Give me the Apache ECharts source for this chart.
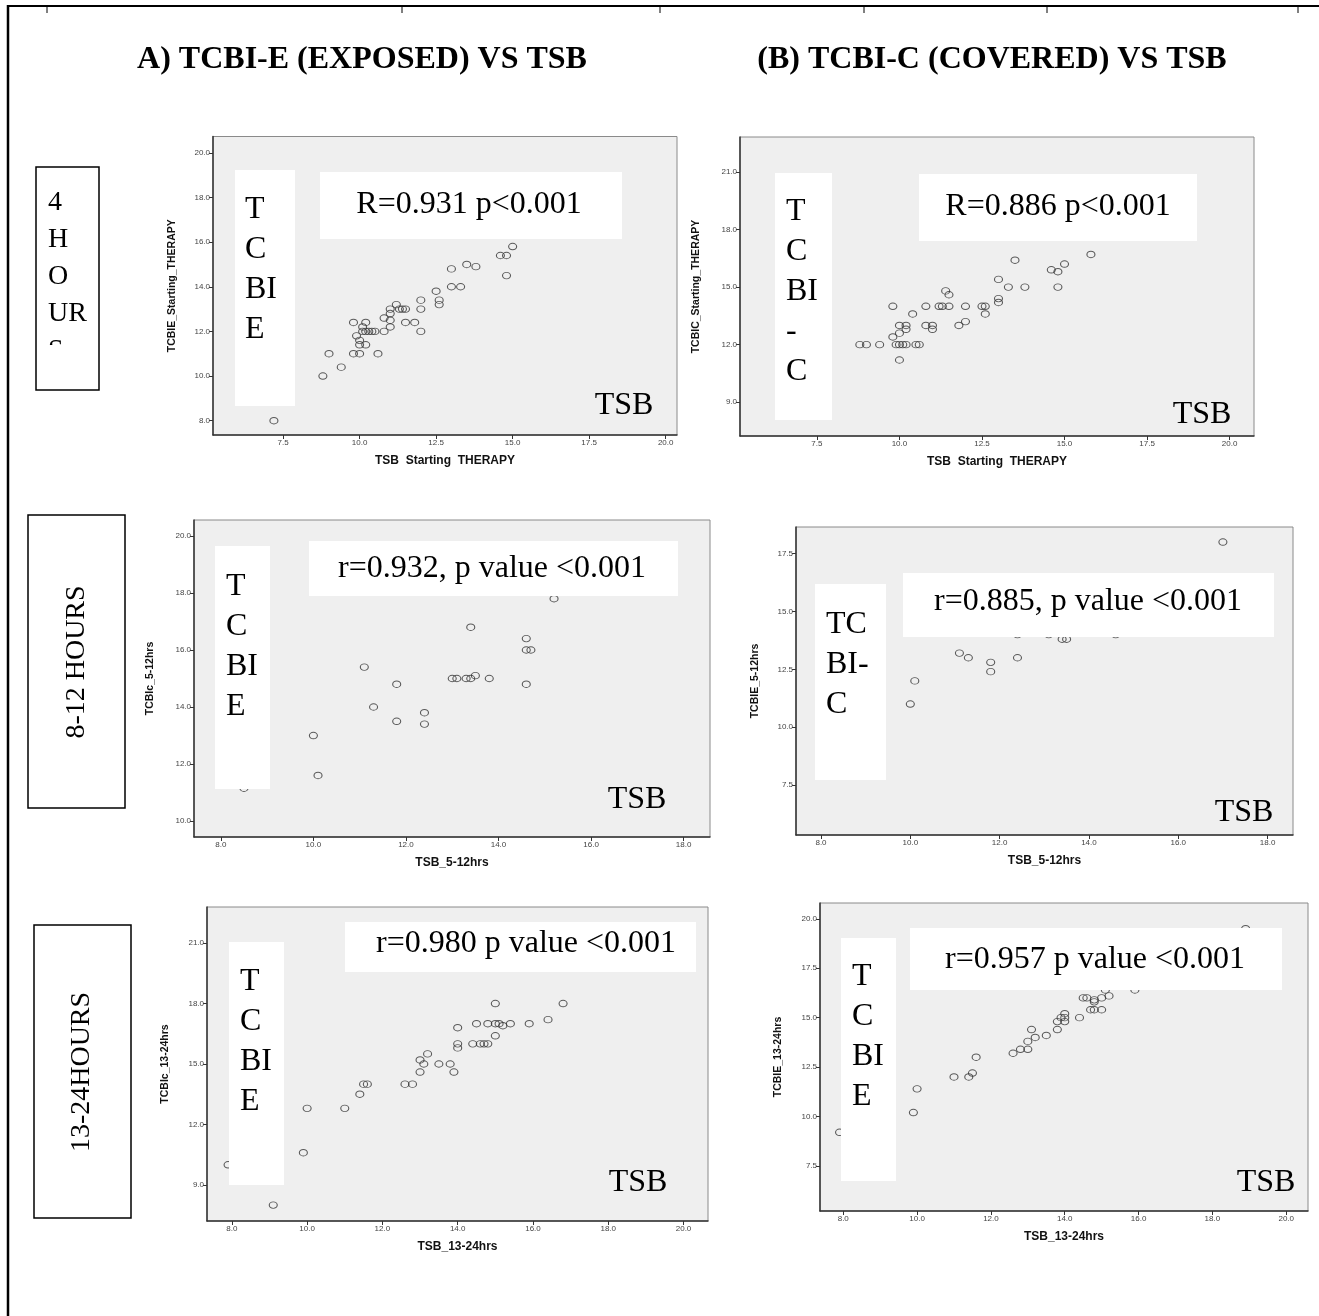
<!DOCTYPE html>
<html>
<head>
<meta charset="utf-8">
<script src="https://cdn.jsdelivr.net/npm/echarts@6/dist/echarts.min.js"></script>
<style>
  html, body { margin: 0; padding: 0; background: #fff; }
  #chart { width: 1319px; height: 1316px; }
</style>
</head>
<body>
<div id="chart"></div>
<script>
// data: [TSB, TCBI]
const startE = [[7.2,8.0],[8.8,10.0],[9.0,11.0],[9.4,10.4],[9.8,12.4],[9.8,11.0],[9.9,11.8],[10.0,11.6],[10.0,11.4],[10.0,11.0],
  [10.1,12.2],[10.1,12.0],[10.2,12.4],[10.2,12.0],[10.2,11.4],[10.3,12.0],[10.4,12.0],[10.5,12.0],[10.6,11.0],[10.8,12.6],
  [10.8,12.0],[11.0,13.0],[11.0,12.8],[11.0,12.5],[11.0,12.2],[11.2,13.2],[11.3,13.0],[11.4,13.0],[11.5,13.0],[11.5,12.4],
  [11.8,12.4],[12.0,13.4],[12.0,13.0],[12.0,12.0],[12.5,13.8],[12.6,13.4],[12.6,13.2],[13.0,14.8],[13.0,14.0],[13.3,14.0],
  [13.5,15.0],[13.8,14.9],[14.6,15.4],[14.8,15.4],[14.8,14.5],[15.0,15.8]];
const startC = [[8.8,12.0],[9.0,12.0],[9.4,12.0],[9.8,14.0],[9.8,12.4],[9.9,12.0],[10.0,13.0],[10.0,12.6],[10.0,12.0],[10.0,11.2],
  [10.1,12.0],[10.2,12.0],[10.2,13.0],[10.2,12.8],[10.4,13.6],[10.5,12.0],[10.6,12.0],[10.8,14.0],[10.8,13.0],[11.0,13.0],
  [11.0,12.8],[11.2,14.0],[11.3,14.0],[11.4,14.8],[11.5,14.6],[11.5,14.0],[11.8,13.0],[12.0,14.0],[12.0,13.2],[12.5,14.0],
  [12.6,14.0],[12.6,13.6],[13.0,15.4],[13.0,14.4],[13.0,14.2],[13.3,15.0],[13.5,16.4],[13.8,15.0],[14.6,15.9],[14.8,15.8],
  [14.8,15.0],[15.0,16.2],[15.8,16.7]];
const h5to12E = [[8.5,11.15],[10.0,13.0],[10.1,11.6],[11.1,15.4],[11.3,14.0],[11.8,14.8],[11.8,13.5],[12.4,13.8],[12.4,13.4],
  [13.0,15.0],[13.1,15.0],[13.3,15.0],[13.4,15.0],[13.4,16.8],[13.5,15.1],[13.8,15.0],[14.6,16.4],[14.6,16.0],[14.7,16.0],
  [14.6,14.8],[15.2,17.8]];
const h5to12C = [[10.0,11.0],[10.1,12.0],[11.1,13.2],[11.3,13.0],[11.8,12.8],[11.8,12.4],[12.4,13.0],[12.4,14.0],[13.1,14.0],
  [13.4,13.8],[13.5,13.8],[14.6,14.0],[17.0,18.0]];
const h13to24E = [[7.9,10.0],[9.1,8.0],[9.9,10.6],[10.0,12.8],[11.0,12.8],[11.4,13.5],[11.5,14.0],[11.6,14.0],[12.6,14.0],
  [12.8,14.0],[13.0,15.2],[13.0,14.6],[13.1,15.0],[13.2,15.5],[13.5,15.0],[13.8,15.0],[13.9,14.6],[14.0,16.8],[14.0,16.0],
  [14.0,15.8],[14.4,16.0],[14.5,17.0],[14.6,16.0],[14.7,16.0],[14.8,16.0],[14.8,17.0],[15.0,18.0],[15.0,17.0],[15.0,16.4],
  [15.1,17.0],[15.2,16.9],[15.4,17.0],[15.9,17.0],[16.4,17.2],[16.8,18.0]];
const h13to24C = [[7.9,9.2],[9.9,10.2],[10.0,11.4],[11.0,12.0],[11.4,12.0],[11.5,12.2],[11.6,13.0],[12.6,13.2],[12.8,13.4],
  [13.0,13.4],[13.0,13.8],[13.1,14.4],[13.2,14.0],[13.5,14.1],[13.8,14.4],[13.8,14.8],[13.9,15.0],[14.0,15.2],[14.0,15.0],
  [14.0,14.8],[14.4,15.0],[14.5,16.0],[14.6,16.0],[14.7,15.4],[14.8,15.4],[14.8,15.8],[14.8,15.9],[15.0,15.4],[15.0,16.0],
  [15.2,16.1],[15.1,16.4],[15.9,16.4],[18.9,19.5]];

// tick labels
const ticksStartX = [7.5, 10, 12.5, 15, 17.5, 20];
const ticksStartEY = [8, 10, 12, 14, 16, 18, 20];
const ticksStartCY = [9, 12, 15, 18, 21];
const ticks5to12X = [8, 10, 12, 14, 16, 18];
const ticks5to12EY = [10, 12, 14, 16, 18, 20];
const ticks5to12CY = [7.5, 10, 12.5, 15, 17.5];
const ticks13to24X = [8, 10, 12, 14, 16, 18, 20];
const ticks13to24EY = [9, 12, 15, 18, 21];
const ticks13to24CY = [7.5, 10, 12.5, 15, 17.5, 20];

// texts
const titles = ['A) TCBI-E (EXPOSED) VS TSB', '(B) TCBI-C (COVERED) VS TSB'];
const rowLabel1 = ['4', 'H', 'O', 'UR', 'S'];
const rowLabels = ['8-12 HOURS', '13-24HOURS'];
const xNames = ['TSB  Starting  THERAPY', 'TSB  Starting  THERAPY', 'TSB_5-12hrs', 'TSB_5-12hrs', 'TSB_13-24hrs', 'TSB_13-24hrs'];
const yNames = ['TCBIE_Starting_THERAPY', 'TCBIC_Starting_THERAPY', 'TCBIc_5-12hrs', 'TCBIE_5-12hrs', 'TCBIc_13-24hrs', 'TCBIE_13-24hrs'];
const stats = ['R=0.931 p<0.001', 'R=0.886 p<0.001', 'r=0.932, p value <0.001', 'r=0.885, p value <0.001',
  'r=0.980 p value <0.001', 'r=0.957 p value <0.001'];
const sideWords = [['T', 'C', 'BI', 'E'], ['T', 'C', 'BI', '-', 'C'], ['T', 'C', 'BI', 'E'], ['TC', 'BI-', 'C'],
  ['T', 'C', 'BI', 'E'], ['T', 'C', 'BI', 'E']];

// layout of each panel
const panels = [
  { data: startE, xt: ticksStartX, yt: ticksStartEY, box: [213, 136.5, 464, 298.5], xr: [5.21, 20.37], yr: [7.36, 20.73], yGap: 35,
    side: [235, 170, 60, 236, 245, 210], stat: [320, 172, 302, 67, 469, 205], tsb: [624, 406] },
  { data: startC, xt: ticksStartX, yt: ticksStartCY, box: [740, 137, 514, 299], xr: [5.17, 20.74], yr: [7.24, 22.82], yGap: 38,
    side: [775, 173, 57, 247, 786, 212], stat: [919, 174, 278, 67, 1058, 207], tsb: [1202, 415] },
  { data: h5to12E, xt: ticks5to12X, yt: ticks5to12EY, box: [194, 520, 516, 317], xr: [7.42, 18.57], yr: [9.44, 20.56], yGap: 38,
    side: [215, 546, 55, 243, 226, 587], stat: [309, 541, 369, 55, 492, 569], tsb: [637, 800] },
  { data: h5to12C, xt: ticks5to12X, yt: ticks5to12CY, box: [796, 527, 497, 308], xr: [7.44, 18.57], yr: [5.34, 18.65], yGap: 35,
    side: [815, 584, 71, 196, 826, 625], stat: [903, 573, 371, 64, 1088, 602], tsb: [1244, 813] },
  { data: h13to24E, xt: ticks13to24X, yt: ticks13to24EY, box: [207, 907, 501, 314], xr: [7.34, 20.65], yr: [7.21, 22.79], yGap: 36,
    side: [229, 942, 55, 243, 240, 982], stat: [345, 922, 351, 50, 526, 944], tsb: [638, 1183] },
  { data: h13to24C, xt: ticks13to24X, yt: ticks13to24CY, box: [820, 903, 488, 308], xr: [7.37, 20.59], yr: [5.22, 20.8], yGap: 36,
    side: [841, 938, 55, 243, 852, 977], stat: [910, 928, 372, 62, 1095, 960], tsb: [1266, 1183] }
];

const serif = '"Liberation Serif", "Times New Roman", serif';
const sans = '"Liberation Sans", Arial, sans-serif';

const chart = echarts.init(document.getElementById('chart'));

const grids = [], xAxes = [], yAxes = [], series = [], graphics = [];

function rect(x, y, w, h, stroke) {
  graphics.push({ type: 'rect', z: 100, shape: { x: x, y: y, width: w, height: h },
    style: { fill: '#fff', stroke: stroke || null, lineWidth: 1.5 } });
}
function text(x, y, str, font, align, rot) {
  graphics.push({ type: 'text', z: 101, x: x, y: y, rotation: rot || 0,
    style: { text: str, x: 0, y: 0, font: font, fill: '#000', textAlign: align || 'center', textVerticalAlign: 'middle' } });
}
function line(x1, y1, x2, y2, w) {
  graphics.push({ type: 'line', z: 100, shape: { x1: x1, y1: y1, x2: x2, y2: y2 }, style: { stroke: '#000', lineWidth: w } });
}

panels.forEach((p, i) => {
  grids.push({ left: p.box[0], top: p.box[1], width: p.box[2], height: p.box[3], show: true,
    backgroundColor: '#efefef', borderColor: '#8a8a8a', borderWidth: 1, containLabel: false, outerBoundsMode: 'none' });
  const axisBase = {
    type: 'value', gridIndex: i, nameLocation: 'middle',
    axisLine: { show: true, onZero: false, lineStyle: { color: '#333', width: 1.5 } },
    splitLine: { show: false }
  };
  xAxes.push(Object.assign({}, axisBase, {
    min: p.xr[0], max: p.xr[1], name: xNames[i], nameGap: 20,
    nameTextStyle: { fontFamily: sans, fontWeight: 'bold', fontSize: 12, color: '#111' },
    axisTick: { show: true, customValues: p.xt, length: 4, lineStyle: { color: '#333' } },
    axisLabel: { customValues: p.xt, formatter: v => v.toFixed(1), fontSize: 8, color: '#444', fontFamily: sans, margin: 4 }
  }));
  yAxes.push(Object.assign({}, axisBase, {
    min: p.yr[0], max: p.yr[1], name: yNames[i], nameGap: p.yGap,
    nameTextStyle: { fontFamily: sans, fontWeight: 'bold', fontSize: 10.5, color: '#111' },
    axisTick: { show: true, customValues: p.yt, length: 4, lineStyle: { color: '#333' } },
    axisLabel: { customValues: p.yt, formatter: v => v.toFixed(1), fontSize: 8, color: '#444', fontFamily: sans, margin: 3 }
  }));
  series.push({ type: 'scatter', xAxisIndex: i, yAxisIndex: i, data: p.data, symbol: 'circle', symbolSize: [8, 6.5],
    itemStyle: { color: 'rgba(0,0,0,0)', borderColor: '#333', borderWidth: 1 }, silent: true });

  // white text boxes laid over the plot
  const s = p.side;
  rect(s[0], s[1], s[2], s[3]);
  sideWords[i].forEach((w, k) => text(s[4], s[5] + k * 40, w, '32px ' + serif, 'left'));
  const t = p.stat;
  rect(t[0], t[1], t[2], t[3]);
  text(t[4], t[5], stats[i], '32px ' + serif);
  text(p.tsb[0], p.tsb[1], 'TSB', '32px ' + serif);
});

// page frame
line(8, 6, 1319, 6, 2);
line(8, 5, 8, 1316, 2.5);
[47, 402, 660, 864, 1047, 1298].forEach(x => line(x, 6, x, 13, 1));

// column titles
text(362, 60, titles[0], 'bold 32px ' + serif);
text(992, 60, titles[1], 'bold 32px ' + serif);

// row labels
rect(36, 167, 63, 223, '#000');
rowLabel1.forEach((w, k) => text(48, 203 + k * 37, w, '28px ' + serif, 'left'));
graphics.push({ type: 'rect', z: 102, shape: { x: 37, y: 345, width: 61, height: 44 }, style: { fill: '#fff' } });
rect(28, 515, 97, 293, '#000');
text(77, 662, rowLabels[0], '28px ' + serif, 'center', Math.PI / 2);
rect(34, 925, 97, 293, '#000');
text(82, 1072, rowLabels[1], '28px ' + serif, 'center', Math.PI / 2);

chart.setOption({
  animation: false,
  backgroundColor: '#fff',
  grid: grids,
  xAxis: xAxes,
  yAxis: yAxes,
  series: series,
  graphic: { elements: graphics }
});
</script>
</body>
</html>
